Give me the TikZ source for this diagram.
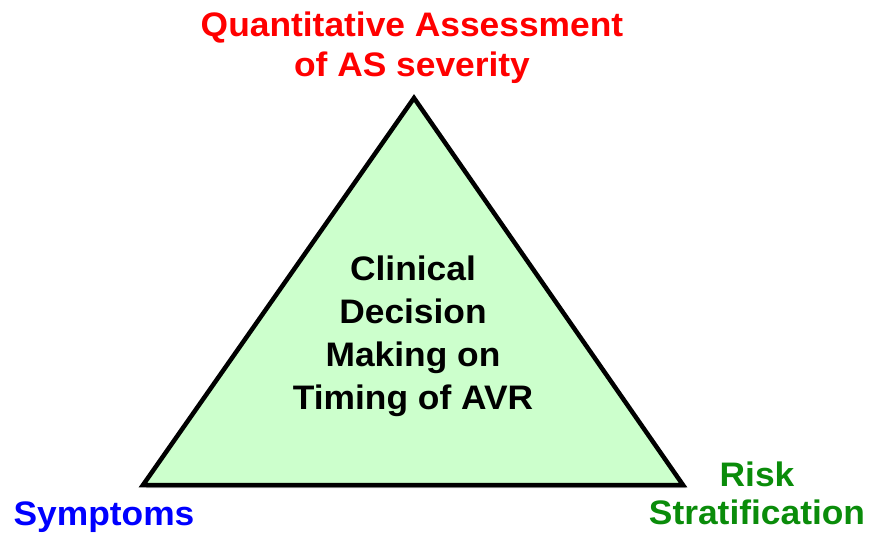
\documentclass[tikz,border=0pt]{standalone}
\usepackage{fontspec}
\setmainfont[FakeStretch=1.04]{Liberation Sans}
\definecolor{paleGreen}{RGB}{204,255,204}
\definecolor{darkGreen}{RGB}{10,140,10}
\definecolor{redText}{RGB}{255,0,0}
\definecolor{blueText}{RGB}{0,0,255}
\begin{document}
\begin{tikzpicture}[
x=1pt, y=-1pt,
corner/.style = {inner sep=0pt, align=center, font=\bfseries\fontsize{34}{40}\selectfont},
center/.style = {inner sep=0pt, align=center, font=\bfseries\fontsize{34}{43}\selectfont},
    line join=miter
                        ]
%canvas
\useasboundingbox[fill=white] (0,0) rectangle (869,540);
%

% triangle corners
\coordinate (apex) at (414,98);
\coordinate (left) at (143,485);
\coordinate (right) at (683,485);

% shadow
\fill[black, opacity=0.25] ([shift={(3,3)}]apex) -- ([shift={(3,3)}]left) -- ([shift={(3,3)}]right) -- cycle;

% triangle
\draw[line width=4.5pt, fill=paleGreen] (apex) -- (left) -- (right) -- cycle;

% middle text
\node[center] (decision) at (413,336) {Clinical\\Decision\\Making on\\Timing of AVR};

% corner labels
\node[corner, text=redText] (severity) at (412,48) {Quantitative Assessment\\of AS severity};
\node[corner, text=blueText, anchor=base] (symptoms) at (104,525) {Symptoms};
\node[corner, text=darkGreen, font=\bfseries\fontsize{34}{38}\selectfont] (risk) at (757,493) {Risk\\Stratification};

\end{tikzpicture}
\end{document}
